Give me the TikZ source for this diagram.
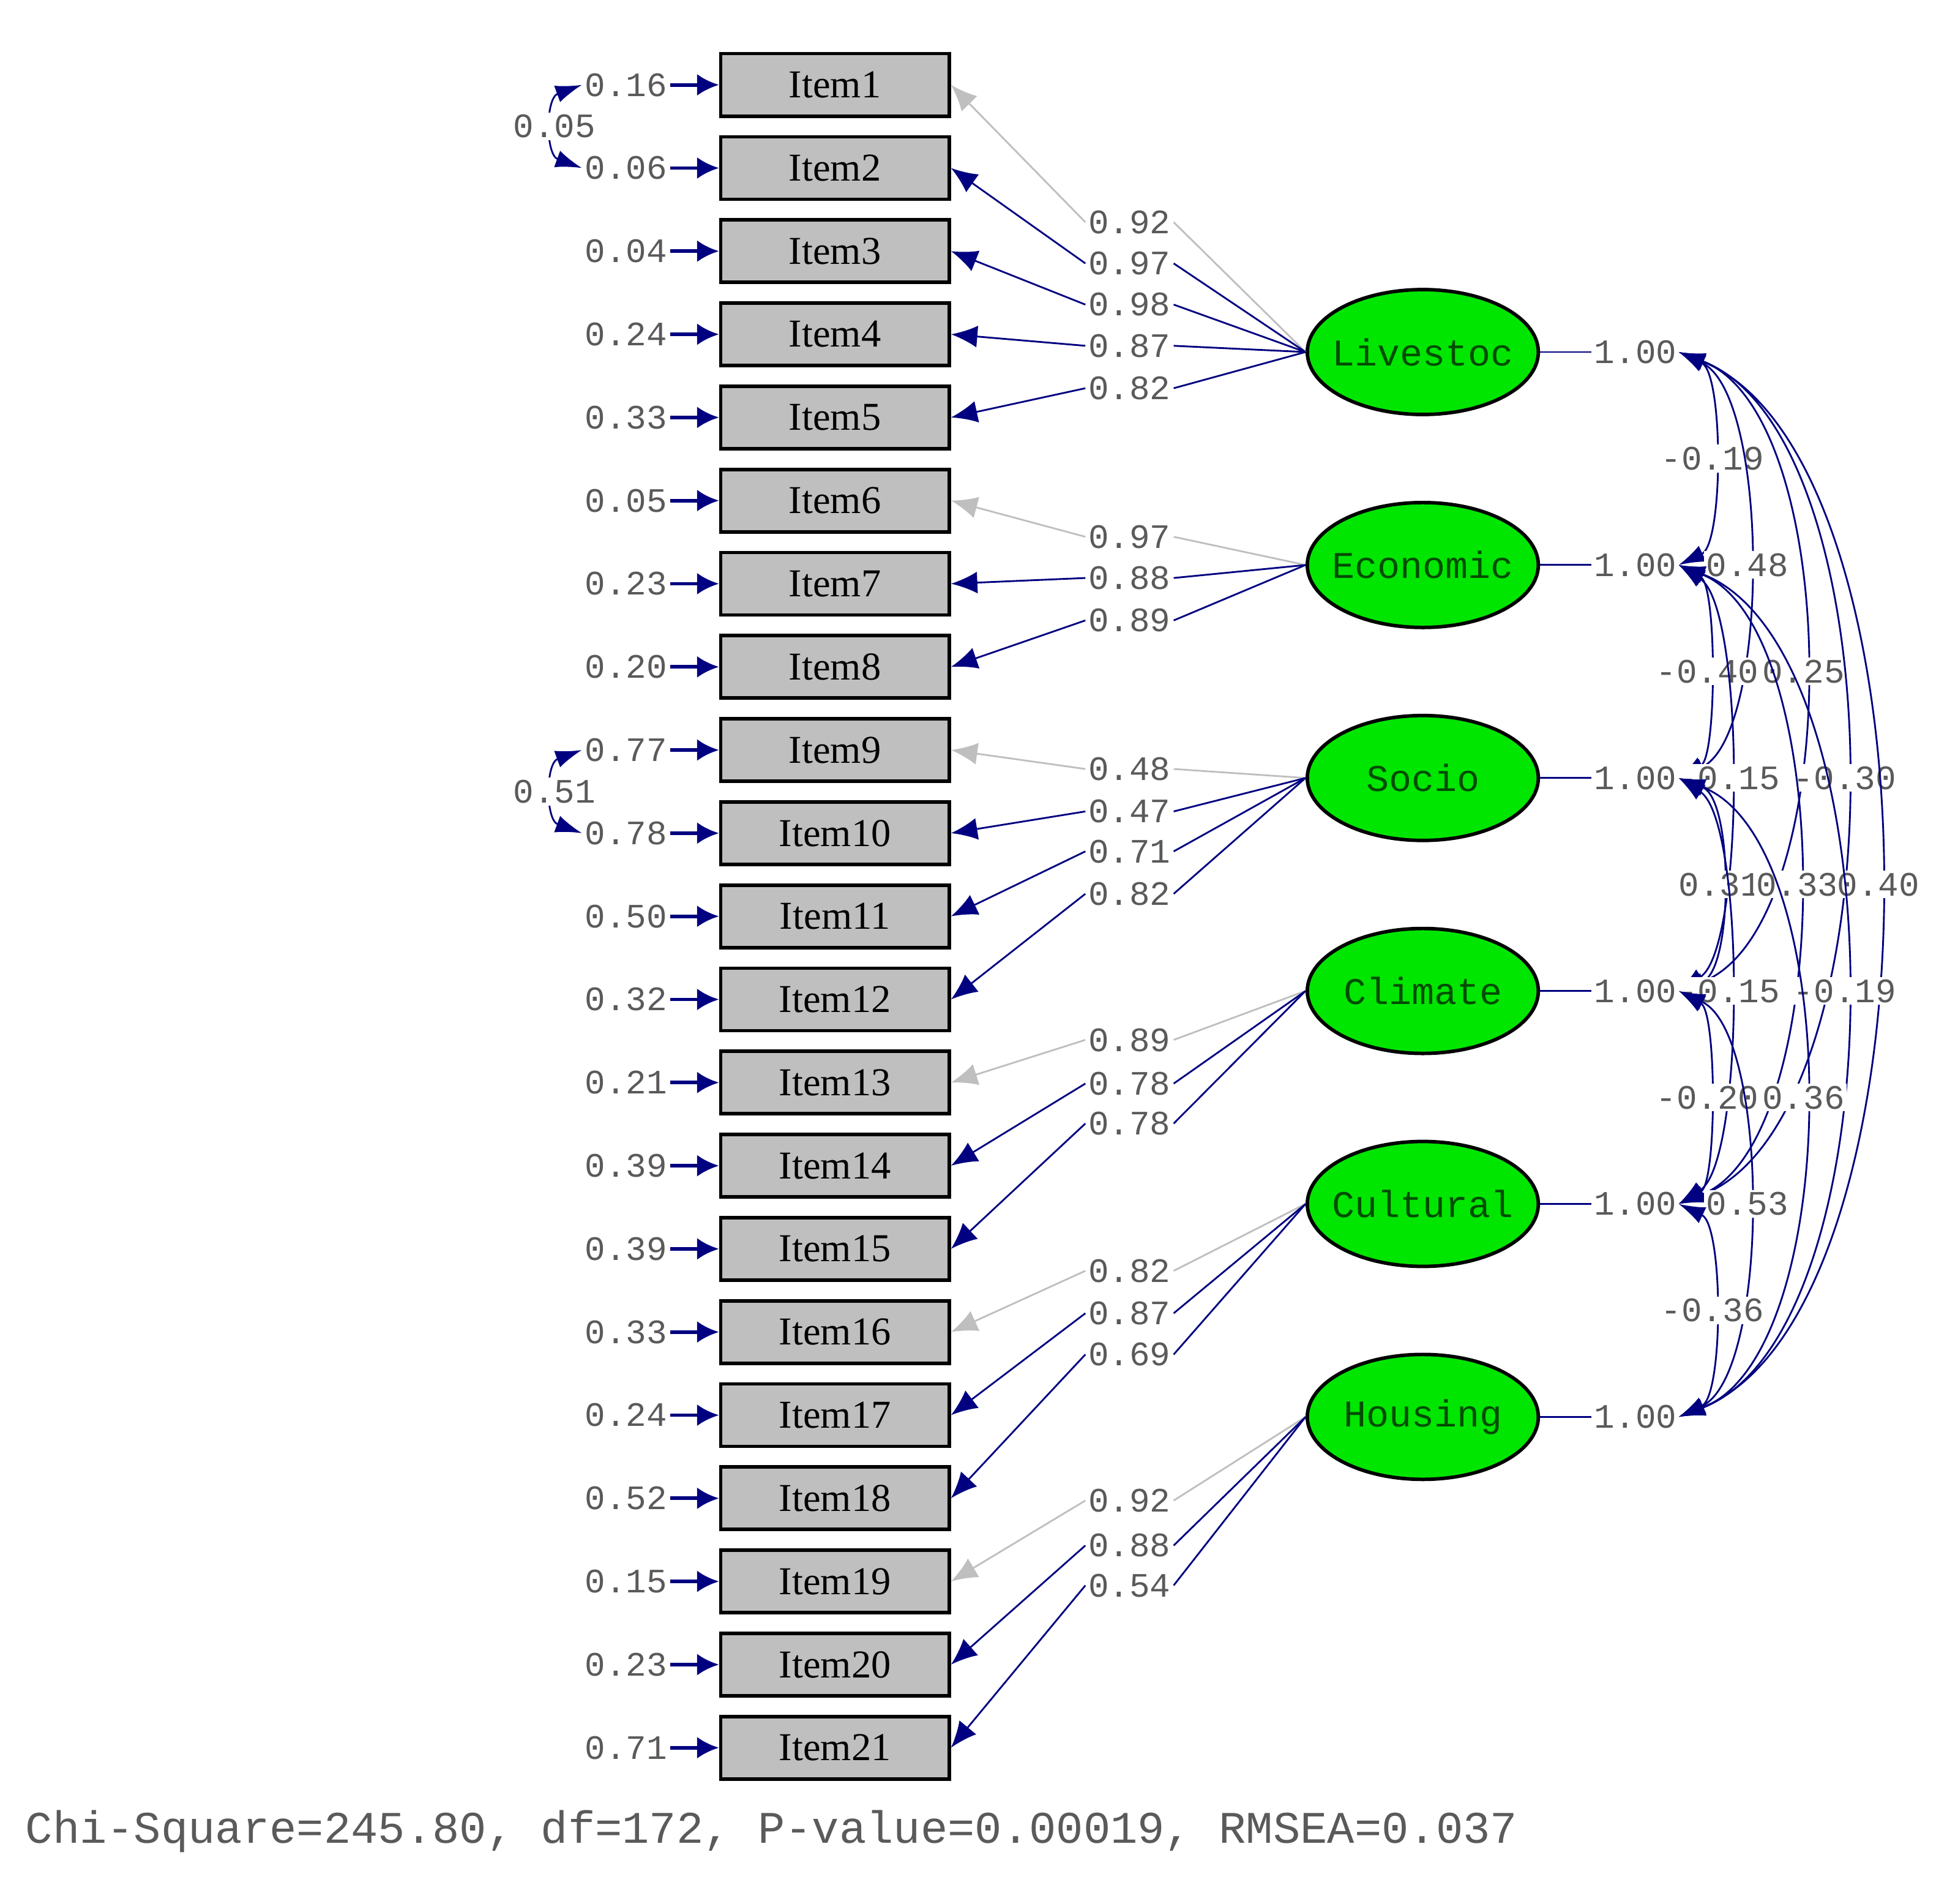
\documentclass[tikz,border=0pt]{standalone}
\usepackage{fontspec}
\setmainfont{Liberation Serif}
\setmonofont{Liberation Mono}
\usetikzlibrary{arrows.meta,shapes.geometric}
\definecolor{pathblue}{RGB}{0,0,128}
\definecolor{numgray}{RGB}{90,90,90}
\definecolor{latgreen}{RGB}{0,230,0}
\tikzset{
  item/.style={draw, thick, fill=gray!50, minimum width=1.83cm, minimum height=0.5cm, font=\fontsize{9}{9}\selectfont},
  latent/.style={ellipse, draw, thick, fill=latgreen, minimum width=1.85cm, minimum height=1.0cm, font=\ttfamily\fontsize{8.6}{8.6}\selectfont, text=green!30!black, inner xsep=-5pt, inner ysep=0pt},
  num/.style={font=\ttfamily\fontsize{7.8}{7.8}\selectfont, text=numgray, inner sep=0.5pt},
  load/.style={pathblue, -{Latex[length=6pt,width=5pt]}},
  fixed/.style={gray!50, -{Latex[length=6pt,width=5pt]}},
  corr/.style={pathblue, {Latex[length=6pt,width=4pt]}-{Latex[length=6pt,width=4pt]}}
}
\begin{document}
\begin{tikzpicture}[x=0.01cm, y=-0.01cm]
  \useasboundingbox (0,0) rectangle (1560,1525);

  % Items and error variances
  \foreach \i/\err in {1/0.16,2/0.06,3/0.04,4/0.24,5/0.33,6/0.05,7/0.23,8/0.20,9/0.77,10/0.78,
      11/0.50,12/0.32,13/0.21,14/0.39,15/0.39,16/0.33,17/0.24,18/0.52,19/0.15,20/0.23,21/0.71} {
    \pgfmathsetmacro\yy{68+66.6*(\i-1)}
    \node[item] (i\i) at (669,\yy) {Item\i};
    \node[num, anchor=east] (e\i) at (537,\yy) {\err};
    \draw[pathblue, thick, -{Latex[length=5pt,width=5pt]}] (e\i.east) -- (i\i.west);
  }

  % Correlated errors
  \draw[corr, thin] (e1.west) to[out=200, in=160, looseness=1.2] node[num, fill=white, pos=0.5] {0.05} (e2.west);
  \draw[corr, thin] (e9.west) to[out=200, in=160, looseness=1.2] node[num, fill=white, pos=0.5] {0.51} (e10.west);

  % Latent variables
  \foreach \k/\name in {1/Livestoc,2/Economic,3/Socio,4/Climate,5/Cultural,6/Housing} {
    \pgfmathsetmacro\yy{282+170.6*(\k-1)}
    \node[latent] (lv\k) at (1140,\yy) {\name};
    \node[num, anchor=west] (v\k) at (1275,\yy) {1.00};
    \draw[pathblue] (lv\k.east) -- (v\k.west);
    \coordinate (c\k) at (1345,\yy);
  }

  % Loadings
  \foreach \i/\f/\ly/\val/\st in {1/1/178/0.92/fixed,2/1/211/0.97/load,3/1/244/0.98/load,4/1/277/0.87/load,5/1/311/0.82/load,
      6/2/430/0.97/fixed,7/2/463/0.88/load,8/2/497/0.89/load,
      9/3/616/0.48/fixed,10/3/650/0.47/load,11/3/682/0.71/load,12/3/716/0.82/load,
      13/4/833/0.89/fixed,14/4/868/0.78/load,15/4/900/0.78/load,
      16/5/1018/0.82/fixed,17/5/1052/0.87/load,18/5/1085/0.69/load,
      19/6/1202/0.92/fixed,20/6/1238/0.88/load,21/6/1270/0.54/load} {
    \node[num] (l\i) at (905,\ly) {\val};
    \draw[\st, -] (lv\f.west) -- (l\i.east);
    \draw[\st] (l\i.west) -- (i\i.east);
  }

  % Factor correlations
  \foreach \a/\b/\xp/\v in {1/2/1372/-0.19,1/3/1400/0.48,2/3/1368/-0.40,1/4/1445/0.25,
      2/4/1385/-0.15,1/5/1478/-0.30,3/4/1378/0.31,2/5/1440/0.33,1/6/1505/0.40,
      3/5/1385/-0.15,2/6/1478/-0.19,4/5/1368/-0.20,3/6/1445/0.36,4/6/1400/0.53,5/6/1372/-0.36} {
    \pgfmathsetmacro\ya{282+170.6*(\a-1)}
    \pgfmathsetmacro\yb{282+170.6*(\b-1)}
    \pgfmathsetmacro\cx{1345+(\xp-1345)/0.75}
    \pgfmathsetmacro\ym{(\ya+\yb)/2}
    \draw[corr] (c\a) .. controls (\cx,\ya+0.1*\yb-0.1*\ya) and (\cx,\yb-0.1*\yb+0.1*\ya) .. (c\b);
    \node[num, fill=white] (r\a\b) at (\xp,\ym) {\v};
  }

  \node[num, anchor=west, font=\ttfamily\fontsize{10.3}{10.3}\selectfont] (fit) at (18,1467)
    {Chi-Square=245.80, df=172, P-value=0.00019, RMSEA=0.037};
\end{tikzpicture}
\end{document}
